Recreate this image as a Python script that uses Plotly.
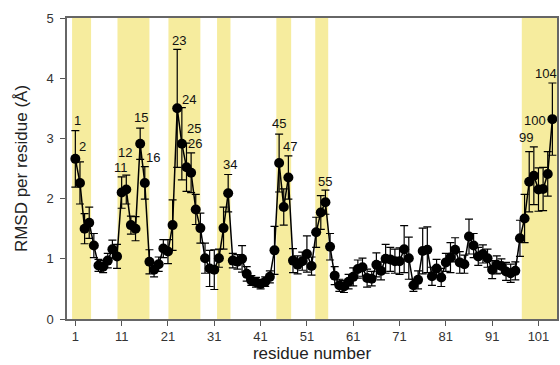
import plotly.graph_objects as go

residues = list(range(1, 105))
rmsd = [2.66, 2.26, 1.50, 1.60, 1.22, 0.89, 0.87, 0.97, 1.16, 1.04,
        2.10, 2.15, 1.56, 1.50, 2.91, 2.26, 0.95, 0.82, 0.91, 1.17,
        1.12, 1.56, 3.50, 2.91, 2.52, 2.43, 1.82, 1.51, 1.01, 0.84,
        0.82, 1.01, 1.51, 2.09, 0.97, 0.95, 1.00, 0.75, 0.64, 0.61,
        0.58, 0.62, 0.70, 1.14, 2.59, 1.86, 2.35, 0.97, 0.90, 0.96,
        1.08, 0.88, 1.44, 1.77, 1.94, 1.20, 0.72, 0.56, 0.54, 0.62,
        0.70, 0.83, 0.86, 0.68, 0.67, 0.90, 0.80, 1.00, 0.99, 0.96,
        0.96, 1.16, 1.01, 0.56, 0.65, 1.13, 1.15, 0.71, 0.84, 0.69,
        0.94, 1.02, 1.15, 0.94, 0.91, 1.37, 1.22, 1.04, 1.08, 1.01,
        0.82, 0.90, 0.88, 0.79, 0.76, 0.80, 1.34, 1.67, 2.28, 2.38,
        2.15, 2.16, 2.41, 3.32]
rmsd_err = [0.47, 0.35, 0.25, 0.26, 0.20, 0.10, 0.10, 0.12, 0.15, 0.20,
            0.26, 0.24, 0.15, 0.20, 0.26, 0.27, 0.20, 0.12, 0.12, 0.15,
            0.20, 0.42, 0.98, 0.60, 0.40, 0.33, 0.25, 0.25, 0.25, 0.30,
            0.33, 0.15, 0.35, 0.31, 0.12, 0.12, 0.22, 0.12, 0.08, 0.08,
            0.08, 0.08, 0.10, 0.40, 0.48, 0.30, 0.36, 0.20, 0.15, 0.15,
            0.30, 0.15, 0.25, 0.28, 0.20, 0.22, 0.15, 0.10, 0.10, 0.12,
            0.15, 0.15, 0.15, 0.15, 0.12, 0.20, 0.15, 0.24, 0.20, 0.20,
            0.22, 0.39, 0.35, 0.10, 0.15, 0.38, 0.38, 0.15, 0.15, 0.15,
            0.15, 0.25, 0.20, 0.18, 0.15, 0.29, 0.20, 0.15, 0.15, 0.15,
            0.15, 0.15, 0.12, 0.15, 0.15, 0.15, 0.30, 0.40, 0.50, 0.48,
            0.36, 0.36, 0.37, 0.60]

# highlighted residue ranges (yellow bands)
band_start = [0.3, 10.1, 21.1, 31.6, 44.4, 52.8, 97.4]
band_end = [4.4, 17.0, 28.0, 34.5, 47.6, 55.6, 105.0]

# labelled residues
label_text = ["1", "2", "11", "12", "15", "16", "23", "24", "25", "26",
              "34", "45", "47", "55", "99", "100", "104"]
label_x = [1.37, 2.45, 10.94, 11.8, 15.25, 17.8, 23.3, 25.5, 26.55, 26.9,
           34.3, 44.9, 47.3, 55.0, 98.2, 100.35, 102.66]
label_y = [3.29, 2.86, 2.52, 2.77, 3.34, 2.69, 4.62, 3.65, 3.16, 2.91,
           2.56, 3.24, 2.87, 2.29, 3.02, 3.29, 4.07]

x_ticks = [1, 11, 21, 31, 41, 51, 61, 71, 81, 91, 101]
y_ticks = [0, 1, 2, 3, 4, 5]

fig = go.Figure()

for s, e in zip(band_start, band_end):
    fig.add_shape(type="rect", xref="x", yref="y domain", x0=s, x1=e, y0=0, y1=1,
                  fillcolor="#f6ec9e", line_width=0, layer="below")

fig.add_trace(go.Scatter(
    x=residues, y=rmsd, mode="lines+markers",
    line=dict(color="black", width=1.5),
    marker=dict(color="black", size=10),
    error_y=dict(type="data", array=rmsd_err, visible=True,
                 color="black", thickness=1.2, width=4),
    showlegend=False,
))

for t, x, y in zip(label_text, label_x, label_y):
    fig.add_annotation(x=x, y=y, text=t, showarrow=False,
                       font=dict(family="Liberation Sans Narrow, Arial Narrow, Liberation Sans",
                                 size=13, color="#111"))

fig.update_layout(
    width=560, height=365,
    margin=dict(l=67, r=3, t=18, b=46),
    paper_bgcolor="white", plot_bgcolor="white",
    font=dict(family="Liberation Sans, Arial, sans-serif", color="#222"),
)
fig.update_xaxes(
    range=[-0.8, 105.0], tickvals=x_ticks, ticks="outside", ticklen=5,
    tickcolor="#555", showgrid=False, zeroline=False, automargin=False,
    showline=True, linecolor="#666", linewidth=1.5, mirror=True,
    tickfont=dict(size=13, color="#333"),
    title=dict(text="residue number", font=dict(size=17, color="#222"), standoff=0),
)
fig.update_yaxes(
    range=[0, 5.0], tickvals=y_ticks, ticks="outside", ticklen=5,
    tickcolor="#555", showgrid=False, zeroline=False, automargin=False,
    showline=True, linecolor="#666", linewidth=1.5, mirror=True,
    tickfont=dict(size=13, color="#333"), ticklabelstandoff=4,
    title=dict(text="RMSD per residue (Å)", font=dict(size=17, color="#222"), standoff=14),
)

fig.write_html("out.html", config={"displayModeBar": False})

with open("out.html", "r", encoding="utf-8") as f:
    html = f.read()
html = html.replace("<head>", "<head><style>html,body{margin:0;padding:0;overflow:hidden;}</style>", 1)
with open("out.html", "w", encoding="utf-8") as f:
    f.write(html)
